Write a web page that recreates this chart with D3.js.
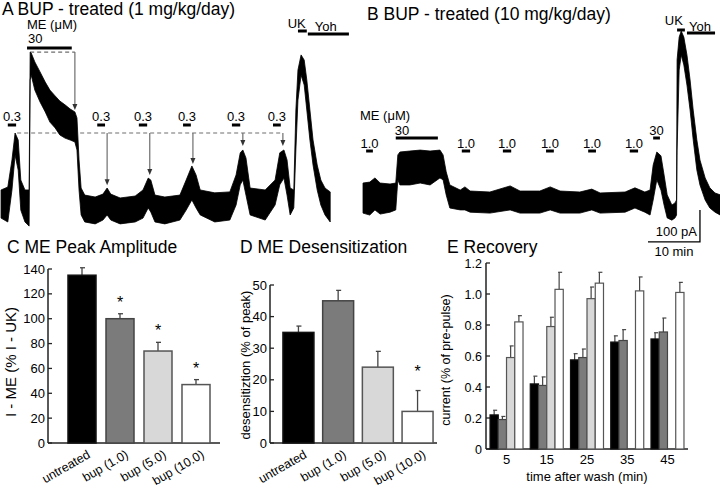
<!DOCTYPE html>
<html><head><meta charset="utf-8">
<script src="https://cdn.jsdelivr.net/npm/d3@7"></script>
<style>
body{margin:0;background:#fff}
svg{display:block}
text{font-family:"Liberation Sans",Arial,Helvetica,sans-serif;fill:#000}
</style></head>
<body><svg id="fig" width="720" height="488"></svg>
<script>
// ---------------- DATA ----------------
// Panel A trace (time in min, current in pA: upper / lower envelope of the noisy record)
const traceATime  = [0.2,1.5,2.3,2.9,3.5,4.0,4.8,5.6,5.8,6.0,6.7,7.7,8.7,9.6,10.6,11.5,12.5,13.5,14.4,14.8,15.2,15.6,16.3,18.3,19.8,20.6,21.3,23.1,26.0,27.5,28.5,29.0,29.8,31.7,34.6,35.8,36.9,37.7,38.5,41.3,44.2,45.4,46.2,46.7,47.3,48.1,51.0,52.9,53.8,54.6,55.2,55.8,56.5,56.9,57.3,57.9,58.5,59.0,59.6,60.2,61.0,61.7,62.5,63.5];
const traceAUpper = [47,56,141,225,203,78,47,47,478,475,447,416,384,359,341,325,313,300,291,272,141,53,31,25,34,53,34,22,28,47,84,78,31,25,31,78,122,94,47,38,41,94,163,172,147,53,47,78,163,172,141,53,47,297,422,469,453,391,297,203,125,78,53,41];
const traceALower = [-41,-53,47,156,109,-16,-53,-66,391,406,359,322,291,259,241,219,209,203,197,172,47,-31,-53,-59,-47,-31,-47,-59,-53,-41,-9,-22,-53,-59,-47,-16,16,-9,-31,-53,-47,0,63,78,31,-31,-47,0,63,84,31,-31,-9,172,328,406,375,297,203,125,47,0,-31,-53];

// Panel A drug applications (min)
const drugALabels = ["30","0.3","0.3","0.3","0.3","0.3","0.3","UK","Yoh"];
const drugAStart  = [5.2,1.5,18.7,26.7,35.2,44.6,52.5,57.3,59.2];
const drugAEnd    = [13.8,3.1,20.2,28.3,36.7,46.2,54.0,59.0,67.1];

// Panel A reference lines (dashed) and arrows (pA)
const refLevel = [478,225];
const refStart = [5.8,3.3];
const refEnd   = [14.4,54.4];
const arrowTime = [14.4,20.6,28.8,37.1,46.7,54.4];
const arrowFrom = [478,225,225,225,225,225];
const arrowTo   = [297,62,94,128,184,184];

// Panel B trace
const traceBTime  = [0,1.3,2.3,3.3,5.2,6.3,6.7,7.1,9.0,11.0,12.9,14.8,15.4,16.0,16.7,18.7,19.6,20.6,24.4,28.3,30.2,34.0,36.0,37.9,41.7,44.0,45.6,50.4,52.3,54.2,55.2,55.8,56.5,57.3,57.9,58.5,59.4,60.0,60.3,60.4,60.8,61.2,61.7,62.3,62.9,63.5,64.2,64.8,65.8,66.7,67.7,68.7];
const traceBUpper = [53,56,69,53,50,53,141,150,153,156,153,156,141,88,47,31,41,28,25,44,28,28,41,28,25,34,22,25,38,25,31,109,150,138,78,16,-16,-9,0,438,509,528,509,453,375,281,188,125,69,38,22,16];
const traceBLower = [-41,-47,-31,-44,-38,-31,63,47,47,53,47,69,63,16,-25,-31,-31,-38,-41,-31,-41,-41,-31,-41,-41,-31,-41,-38,-25,-38,-47,0,63,31,-16,-56,-63,-56,-47,156,406,453,422,359,281,188,94,47,0,-25,-38,-47];

// Panel B drug applications (min)
const drugBLabels = ["1.0","30","1.0","1.0","1.0","1.0","1.0","30","UK","Yoh"];
const drugBStart  = [0.6,6.3,19.0,26.9,35.2,43.3,51.3,55.8,60.4,62.3];
const drugBEnd    = [1.9,14.4,20.6,28.5,36.7,44.8,52.9,57.1,61.9,67.7];

// Scale bar
const scaleBarPA = 100;
const scaleBarMin = 10;

// Panel C
const groups = ["untreated","bup (1.0)","bup (5.0)","bup (10.0)"];
const cMeans = [135,100,74,47];
const cErr   = [6,4,7,4];
const cSig   = [false,true,true,true];
const cTicks = [0,20,40,60,80,100,120,140];

// Panel D
const dMeans = [35,45,24,10];
const dErr   = [2,3.3,5,6.6];
const dSig   = [false,false,false,true];
const dTicks = [0,10,20,30,40,50];

// Panel E
const eTimes = ["5","15","25","35","45"];
const eUntreated = [0.22,0.42,0.575,0.69,0.71];
const eUntreatedErr = [0.03,0.05,0.04,0.04,0.04];
const eBup1 = [0.19,0.41,0.59,0.70,0.755];
const eBup1Err = [0.02,0.055,0.055,0.07,0.09];
const eBup5 = [0.59,0.79,0.97,null,null];
const eBup5Err = [0.075,0.06,0.075,null,null];
const eBup10 = [0.82,1.03,1.07,1.02,1.01];
const eBup10Err = [0.04,0.11,0.07,0.09,0.065];
const eTicks = [0,0.2,0.4,0.6,0.8,1.0,1.2];
const eTickLabels = ["0","0.2","0.4","0.6","0.8","1.0","1.2"];

// ---------------- DRAWING ----------------
const svg = d3.select("#fig");
const fills = ["#000000","#7b7b7b","#d8d8d8","#ffffff"];
const strokes = ["#111","#444","#555","#555"];
const annot = "#6e6e6e";

function txt(x,y,s,size,anchor){
  return svg.append("text").attr("x",x).attr("y",y).attr("font-size",size)
    .attr("text-anchor",anchor||"start").text(s);
}

// trace scales: 10 min = 52 px, 100 pA = 32 px
const xA = d3.scaleLinear().domain([0,10]).range([0,52]);
const yA = d3.scaleLinear().domain([0,100]).range([205,173]);
const xB = d3.scaleLinear().domain([0,10]).range([363,415]);
const yB = d3.scaleLinear().domain([0,100]).range([200,168]);

function drawTrace(time,up,lo,x,y){
  const area = d3.area().x((d,i)=>x(time[i])).y0((d,i)=>y(lo[i])).y1((d,i)=>y(up[i]));
  svg.append("path").datum(time).attr("d",area).attr("fill","#000")
    .attr("stroke","#000").attr("stroke-width",0.8).attr("stroke-linejoin","round");
}

// Panel A
txt(2,14.5,"A BUP - treated (1 mg/kg/day)",17.5);
txt(27,29,"ME (\u03bcM)",13);
const layoutA = {"30":{y:48,tx:"start",ty:43,dx:1},"0.3":{y:125,tx:"middle",ty:121},"UK":{y:31,tx:"end",ty:28,dx:-1},"Yoh":{y:34,tx:"start",ty:31,dx:7}};
drugALabels.forEach((lab,i)=>{
  const L = layoutA[lab];
  const x0 = xA(drugAStart[i]), x1 = xA(drugAEnd[i]);
  svg.append("line").attr("x1",x0).attr("x2",x1).attr("y1",L.y).attr("y2",L.y)
    .attr("stroke","#000").attr("stroke-width",3);
  const tx = L.tx==="middle" ? (x0+x1)/2 : (L.tx==="end" ? x1+(L.dx||0) : x0+(L.dx||0));
  txt(tx,L.ty,lab,13,L.tx);
});
refLevel.forEach((lv,i)=>{
  svg.append("line").attr("x1",xA(refStart[i])).attr("x2",xA(refEnd[i]))
    .attr("y1",yA(lv)).attr("y2",yA(lv)).attr("stroke",annot).attr("stroke-width",1.2)
    .attr("stroke-dasharray","4,3");
});
arrowTime.forEach((t,i)=>{
  const x = xA(t), y0 = yA(arrowFrom[i]), y1 = yA(arrowTo[i]);
  svg.append("line").attr("x1",x).attr("x2",x).attr("y1",y0).attr("y2",y1-5)
    .attr("stroke",annot).attr("stroke-width",1.2);
  svg.append("path").attr("d",`M${x-2.5},${y1-6}L${x+2.5},${y1-6}L${x},${y1}Z`).attr("fill","#333");
});
drawTrace(traceATime,traceAUpper,traceALower,xA,yA);

// Panel B
txt(367,20,"B BUP - treated (10 mg/kg/day)",17.5);
txt(360,120,"ME (\u03bcM)",13);
const layoutB = {"1.0":{y:151,tx:"middle",ty:148},"30":{y:138,tx:"start",ty:135,dx:-1},"UK":{y:30,tx:"end",ty:25,dx:-2},"Yoh":{y:33,tx:"start",ty:31,dx:2}};
drugBLabels.forEach((lab,i)=>{
  const L = layoutB[lab];
  const x0 = xB(drugBStart[i]), x1 = xB(drugBEnd[i]);
  svg.append("line").attr("x1",x0).attr("x2",x1).attr("y1",L.y).attr("y2",L.y)
    .attr("stroke","#000").attr("stroke-width",3);
  let anchor = L.tx;
  let tx = anchor==="middle" ? (x0+x1)/2 : (anchor==="end" ? x1+(L.dx||0) : x0+(L.dx||0));
  if(lab==="30" && (x1-x0)<15){anchor="middle"; tx=(x0+x1)/2;}
  txt(tx,L.ty,lab,13,anchor);
});
drawTrace(traceBTime,traceBUpper,traceBLower,xB,yB);

// scale bar
const sbX1 = xB(64.8), sbX0 = xB(64.8-scaleBarMin);
const sbY0 = yB(-31), sbY1 = yB(-31-scaleBarPA);
svg.append("path").attr("d",`M${sbX1},${sbY0}V${sbY1}H${sbX0}`).attr("fill","none")
  .attr("stroke","#000").attr("stroke-width",1.3);
txt(sbX1-3,sbY1-6,scaleBarPA+" pA",13,"end");
txt((sbX0+sbX1)/2,sbY1+14,scaleBarMin+" min",13,"middle");

// ---------- bar chart helper ----------
function barPanel(o){
  const y = d3.scaleLinear().domain(o.domain).range([o.y0,o.y1]);
  const x = d3.scaleBand().domain(groups).range(o.xr).paddingInner(o.pi).paddingOuter(o.po);
  svg.append("line").attr("x1",o.ax).attr("x2",o.ax).attr("y1",o.y0).attr("y2",o.y1)
    .attr("stroke","#222").attr("stroke-width",1.5);
  svg.append("line").attr("x1",o.ax).attr("x2",o.axEnd).attr("y1",o.y0).attr("y2",o.y0)
    .attr("stroke","#222").attr("stroke-width",1.5);
  o.ticks.forEach(t=>{
    svg.append("line").attr("x1",o.ax).attr("x2",o.ax+4).attr("y1",y(t)).attr("y2",y(t))
      .attr("stroke","#222").attr("stroke-width",1.3);
    txt(o.ax-3,y(t)+4.5,String(t),13,"end");
  });
  groups.forEach((g,i)=>{
    const bx = x(g), bw = x.bandwidth(), cx = bx+bw/2;
    const top = y(o.means[i]), et = y(o.means[i]+o.err[i]);
    svg.append("line").attr("x1",cx).attr("x2",cx).attr("y1",top).attr("y2",et)
      .attr("stroke","#444").attr("stroke-width",1.3);
    svg.append("line").attr("x1",cx-2).attr("x2",cx+3).attr("y1",et).attr("y2",et)
      .attr("stroke","#444").attr("stroke-width",1.3);
    svg.append("rect").attr("x",bx).attr("y",top).attr("width",bw).attr("height",o.y0-top)
      .attr("fill",fills[i]).attr("stroke",strokes[i]).attr("stroke-width",1.5);
    if(o.sig[i]) txt(cx,et-o.starGap,"*",16,"middle");
    svg.append("text").attr("transform",`translate(${cx+9},${o.y0+14}) rotate(-30)`)
      .attr("text-anchor","end").attr("font-size",12.5).text(g);
  });
  svg.append("text").attr("transform",`translate(${o.lx},${o.ly}) rotate(-90)`)
    .attr("text-anchor","middle").attr("font-size",o.lsize).text(o.label);
}

txt(7,253,"C ME Peak Amplitude",17.5);
barPanel({domain:[0,140],y0:443,y1:269,xr:[62,216],pi:0.263,po:0.158,ax:48,axEnd:220,
  ticks:cTicks,means:cMeans,err:cErr,sig:cSig,starGap:6,lx:16,ly:362,lsize:15,label:"I - ME (% I - UK)"});

txt(240,253,"D ME Desensitization",17.5);
barPanel({domain:[0,50],y0:443,y1:285,xr:[277,439],pi:0.22,po:0.15,ax:270,axEnd:437,
  ticks:dTicks,means:dMeans,err:dErr,sig:dSig,starGap:14,lx:250,ly:365,lsize:13,label:"desensitiztion (% of peak)"});

// Panel E
txt(447,253,"E Recovery",17.5);
(function(){
  const y = d3.scaleLinear().domain([0,1.2]).range([449,263]);
  const x = d3.scaleBand().domain(eTimes).range([486,688]).paddingInner(0.18).paddingOuter(0.1);
  const series = [[eUntreated,eUntreatedErr],[eBup1,eBup1Err],[eBup5,eBup5Err],[eBup10,eBup10Err]];
  const xs = d3.scaleBand().domain(d3.range(4)).range([0,x.bandwidth()]);
  svg.append("line").attr("x1",486).attr("x2",486).attr("y1",449).attr("y2",263)
    .attr("stroke","#222").attr("stroke-width",1.5);
  svg.append("line").attr("x1",486).attr("x2",688).attr("y1",449).attr("y2",449)
    .attr("stroke","#222").attr("stroke-width",1.5);
  eTicks.forEach((t,i)=>{
    svg.append("line").attr("x1",486).attr("x2",490).attr("y1",y(t)).attr("y2",y(t))
      .attr("stroke","#222").attr("stroke-width",1.3);
    txt(482,y(t)+5,eTickLabels[i],12.5,"end");
  });
  eTimes.forEach((g,gi)=>{
    txt(x(g)+x.bandwidth()/2,464,g,13,"middle");
    series.forEach((s,si)=>{
      const v = s[0][gi]; if(v==null) return;
      const bx = x(g)+xs(si), bw = xs.bandwidth(), cx = bx+bw/2;
      const top = y(v), et = y(v+s[1][gi]);
      svg.append("line").attr("x1",cx).attr("x2",cx).attr("y1",top).attr("y2",et)
        .attr("stroke","#444").attr("stroke-width",1.2);
      svg.append("line").attr("x1",cx-1).attr("x2",cx+3).attr("y1",et).attr("y2",et)
        .attr("stroke","#444").attr("stroke-width",1.2);
      svg.append("rect").attr("x",bx).attr("y",top).attr("width",bw).attr("height",449-top)
        .attr("fill",fills[si]).attr("stroke",strokes[si]).attr("stroke-width",1.2);
    });
  });
  txt(587,481,"time after wash (min)",13,"middle");
  svg.append("text").attr("transform","translate(450,360) rotate(-90)")
    .attr("text-anchor","middle").attr("font-size",12.5).text("current (% of pre-pulse)");
})();
</script></body></html>
